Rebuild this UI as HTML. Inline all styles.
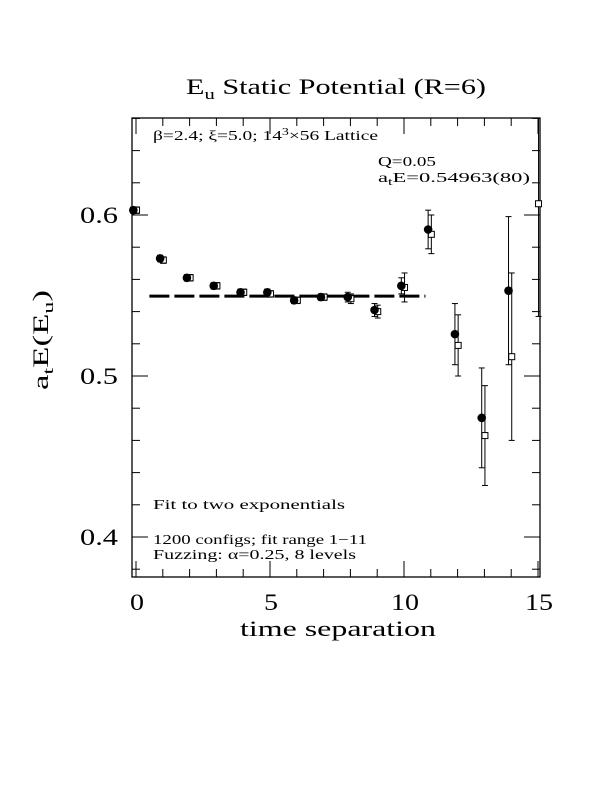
<!DOCTYPE html>
<html><head><meta charset="utf-8"><style>
body{margin:0;background:#fff;}
svg{display:block;font-family:"Liberation Serif",serif;}
</style></head><body>
<svg id="chart" width="612" height="792" xmlns="http://www.w3.org/2000/svg">
<rect width="612" height="792" fill="#fff"/>
<text x="186" y="94" font-size="22" textLength="300" lengthAdjust="spacingAndGlyphs">E<tspan font-size="15" dy="5">u</tspan><tspan dy="-5"> Static Potential (R=6)</tspan></text>
<text x="240" y="636" font-size="22" textLength="196" lengthAdjust="spacingAndGlyphs">time separation</text>
<text transform="translate(48,390) rotate(-90)" font-size="22" textLength="100" lengthAdjust="spacingAndGlyphs">a<tspan font-size="15" dy="5">t</tspan><tspan dy="-5">E(E</tspan><tspan font-size="15" dy="5">u</tspan><tspan dy="-5">)</tspan></text>
<g id="frame"></g>
<g id="ticks"></g>
<g id="marks"></g>
<g font-size="14">
<text x="153" y="140" textLength="225" lengthAdjust="spacingAndGlyphs">β=2.4; ξ=5.0; 14<tspan font-size="10" dy="-5">3</tspan><tspan dy="5">×56 Lattice</tspan></text>
<text x="378" y="166" textLength="58" lengthAdjust="spacingAndGlyphs">Q=0.05</text>
<text x="378" y="182" textLength="152" lengthAdjust="spacingAndGlyphs">a<tspan font-size="10" dy="3">t</tspan><tspan dy="-3">E=0.54963(80)</tspan></text>
<text x="153" y="509" textLength="192" lengthAdjust="spacingAndGlyphs">Fit to two exponentials</text>
<text x="153" y="544" textLength="214" lengthAdjust="spacingAndGlyphs">1200 configs; fit range 1−11</text>
<text x="153" y="559" textLength="203" lengthAdjust="spacingAndGlyphs">Fuzzing: α=0.25, 8 levels</text>
</g>
</svg>
<script>
const tCircle=[0,1,2,3,4,5,6,7,8,9,10,11,12,13,14];
const vCircle=[0.603,0.573,0.561,0.556,0.552,0.552,0.547,0.549,0.549,0.541,0.556,0.591,0.526,0.474,0.553];
const eCircle=[0.002,0.002,0.002,0.002,0.002,0.002,0.002,0.002,0.003,0.004,0.005,0.012,0.019,0.031,0.046];
const tSquare=[0,1,2,3,4,5,6,7,8,9,10,11,12,13,14,15];
const vSquare=[0.603,0.572,0.561,0.556,0.552,0.551,0.547,0.549,0.548,0.540,0.555,0.588,0.519,0.463,0.512,0.607];
const eSquare=[0.002,0.002,0.002,0.002,0.002,0.002,0.002,0.002,0.003,0.004,0.009,0.012,0.019,0.031,0.052,0.07];
const fitValue=0.54963;
const fitRange=[0.5,10.8];
const xTicks=[0,5,10,15];
const yTicks=[0.4,0.5,0.6];
const yTickLabels=["0.4","0.5","0.6"];
const XL=132,XR=540,YT=118,YB=577;
function X(t){return 136+t*26.8;}
function Y(v){return 215+(0.6-v)*1610;}
const NS="http://www.w3.org/2000/svg";
function mk(tag,attrs,parent){const e=document.createElementNS(NS,tag);for(const k in attrs)e.setAttribute(k,attrs[k]);parent.appendChild(e);return e;}
const frame=document.getElementById('frame'),ticks=document.getElementById('ticks'),marks=document.getElementById('marks');
const fr=mk('rect',{x:XL,y:YT,width:XR-XL,height:YB-YT,fill:'none',stroke:'#000','stroke-width':1.3},frame);


for(let t=0;t<=15;t++){const major=t%5===0;const L=major?16:8;
 mk('line',{x1:X(t),x2:X(t),y1:YB,y2:YB-L,stroke:'#000'},ticks);
 mk('line',{x1:X(t),x2:X(t),y1:YT,y2:YT+L,stroke:'#000'},ticks);}
xTicks.forEach(t=>{const s=String(t);const w=s.length*14;const tx=mk('text',{x:X(t)+1-w/2,y:610,'font-size':23,textLength:w,lengthAdjust:'spacingAndGlyphs'},ticks);tx.textContent=s;
 
 });
for(let i=19;i<=33;i++){const v=i*0.02;const y=Y(v);if(y<YT||y>YB)continue;const major=Math.abs(v*10-Math.round(v*10))<1e-6;const L=major?16:8;
 mk('line',{x1:XL,x2:XL+L,y1:y,y2:y,stroke:'#000'},ticks);
 mk('line',{x1:XR,x2:XR-L,y1:y,y2:y,stroke:'#000'},ticks);}
yTicks.forEach((v,i)=>{const tx=mk('text',{x:80,y:Y(v)+8,'font-size':23,textLength:38,lengthAdjust:'spacingAndGlyphs'},ticks);tx.textContent=yTickLabels[i];
 
 });
const fl=mk('line',{x1:X(fitRange[0]),x2:X(fitRange[1]),y1:Y(fitValue),y2:Y(fitValue),stroke:'#000','stroke-width':3,'stroke-dasharray':'20,5'},marks);


function clip(y){return Math.max(YT,Math.min(YB,y));}
function errbar(x,v,e){const y1=clip(Y(v+e)),y2=clip(Y(v-e));
 mk('line',{x1:x,x2:x,y1:y1,y2:y2,stroke:'#000'},marks);
 if(Y(v+e)>=YT)mk('line',{x1:x-3,x2:x+3,y1:y1,y2:y1,stroke:'#000'},marks);
 mk('line',{x1:x-3,x2:x+3,y1:y2,y2:y2,stroke:'#000'},marks);}
tSquare.forEach((t,i)=>{const x=X(t+0.02);errbar(x,vSquare[i],eSquare[i]);
 const r=mk('rect',{x:x-3,y:Y(vSquare[i])-3,width:6,height:6,fill:'#fff',stroke:'#000'},marks);
 
 });
tCircle.forEach((t,i)=>{const x=X(t-0.1);errbar(x,vCircle[i],eCircle[i]);
 const c=mk('circle',{cx:x,cy:Y(vCircle[i]),r:4.3,fill:'#000'},marks);
 
 });
</script>
</body></html>
